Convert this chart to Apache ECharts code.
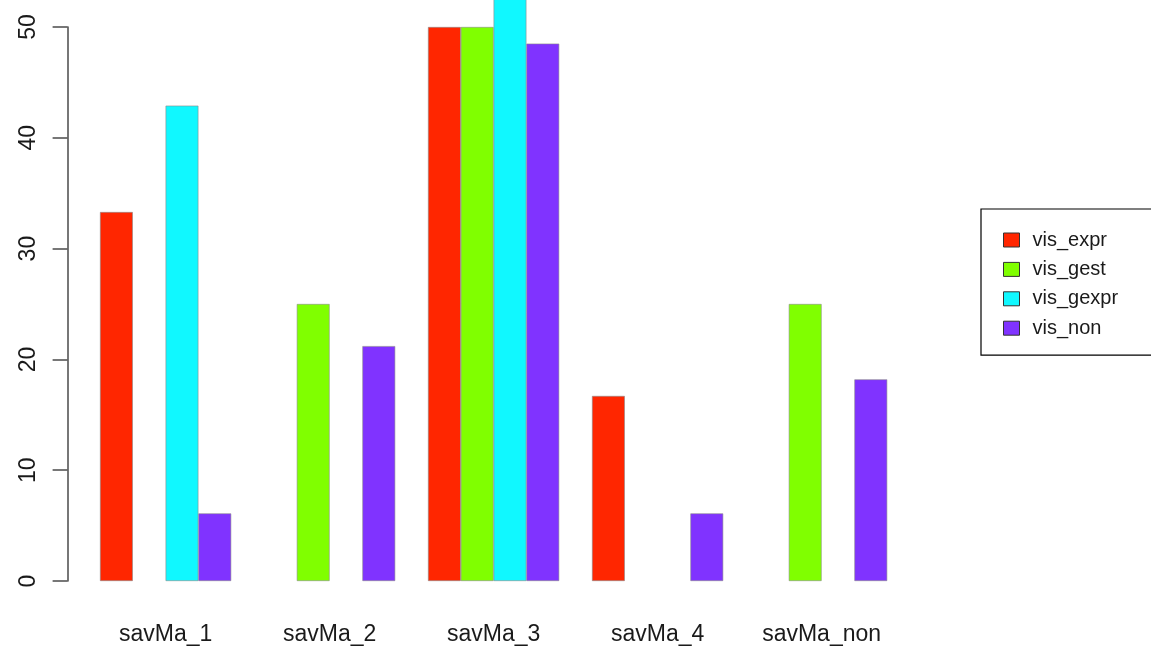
<!DOCTYPE html>
<html>
<head>
<meta charset="utf-8">
<script src="https://cdn.jsdelivr.net/npm/echarts@6/dist/echarts.min.js"></script>
<style>
html,body{margin:0;padding:0;background:#fff;}
#chart{width:1151px;height:646px;}
</style>
</head>
<body>
<div id="chart"></div>
<script>
var categories = ['savMa_1', 'savMa_2', 'savMa_3', 'savMa_4', 'savMa_non'];
var seriesNames = ['vis_expr', 'vis_gest', 'vis_gexpr', 'vis_non'];
var visExpr  = [33.3, 0, 50, 16.7, 0];
var visGest  = [0, 25, 50, 0, 25];
var visGexpr = [42.9, 0, 57.1, 0, 0];
var visNon   = [6.1, 21.2, 48.5, 6.1, 18.2];
var yTicks = [0, 10, 20, 30, 40, 50];

var colors = ['#FF2600', '#80FF00', '#10F8FF', '#8033FF'];
var values = [visExpr, visGest, visGexpr, visNon];
var font = '"Liberation Sans", Arial, Helvetica, sans-serif';

var chart = echarts.init(document.getElementById('chart'), null, {renderer: 'canvas'});

var series = seriesNames.map(function (name, i) {
  return {
    name: name,
    type: 'bar',
    data: values[i].map(function (v) {
      return v === 0 ? {value: v, itemStyle: {borderWidth: 0}} : v;
    }),
    clip: false,
    barGap: '0%',
    barCategoryGap: '20%',
    itemStyle: {color: colors[i], borderColor: '#8a8a8a', borderWidth: 0.6},
    emphasis: {disabled: true}
  };
});

chart.setOption({
  animation: false,
  color: colors,
  grid: {left: 83.6, right: 247.4, top: 27, bottom: 65, containLabel: false},
  legend: {
    orient: 'vertical',
    left: 981,
    top: 209,
    data: seriesNames,
    itemWidth: 16,
    itemHeight: 14,
    itemGap: 9.4,
    padding: [21, 80, 17, 22],
    borderColor: '#000',
    borderWidth: 1.2,
    icon: 'rect',
    itemStyle: {borderColor: '#333', borderWidth: 1},
    textStyle: {fontFamily: font, fontSize: 20, color: '#1a1a1a', padding: [0, 0, 0, 8], lineHeight: 20},
    selectedMode: false
  },
  xAxis: {
    type: 'category',
    data: categories,
    axisLine: {show: false},
    axisTick: {show: false},
    axisLabel: {fontFamily: font, fontSize: 23, color: '#1a1a1a', margin: 42},
    splitLine: {show: false}
  },
  yAxis: {
    type: 'value',
    min: 0,
    max: 50,
    interval: 10,
    offset: 16,
    axisLine: {show: true, lineStyle: {color: '#555', width: 1.6}},
    axisTick: {show: true, length: 15, lineStyle: {color: '#555', width: 1.6}},
    axisLabel: {
      fontFamily: font, fontSize: 23, color: '#1a1a1a', rotate: 90, margin: 27,
      formatter: function (v) { return yTicks.indexOf(v) >= 0 ? String(v) : ''; }
    },
    splitLine: {show: false}
  },
  series: series
});
</script>
</body>
</html>
